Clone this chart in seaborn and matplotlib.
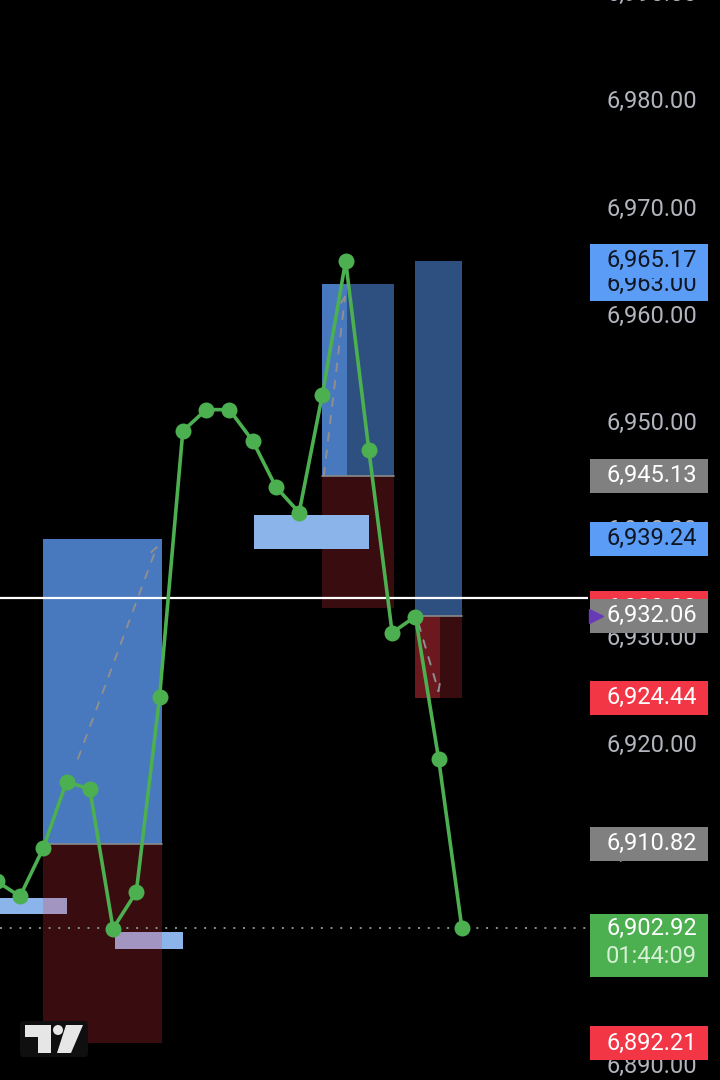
import numpy as np
import pandas as pd
import matplotlib
matplotlib.use('Agg')
import matplotlib.pyplot as plt
import seaborn as sns
from matplotlib.patches import Rectangle, Polygon, Ellipse, FancyBboxPatch

# closing prices of the visible bars
bars = list(range(21))
close = [6907.3, 6905.9, 6910.4, 6916.6, 6915.9, 6902.9, 6906.3, 6924.5, 6949.3, 6951.3,
         6951.3, 6948.4, 6944.1, 6941.7, 6952.7, 6965.17, 6947.5, 6930.5, 6932.0, 6918.7,
         6902.92]

# long/short position tools
pos_x0 = [2.0, 14.0, 18.0]
pos_x1 = [7.1, 17.08, 20.0]
pos_target = [6939.24, 6963.00, 6965.17]
pos_entry = [6910.82, 6945.13, 6932.06]
pos_stop = [6892.21, 6932.80, 6924.44]
prog_end = [7.1, 15.06, 19.06]
prog_side = ['target', 'target', 'stop']

# light blue zones
zone_x0 = [-1.0, 11.06, 5.08]
zone_x1 = [3.02, 16.0, 8.01]
zone_top = [6905.70, 6941.50, 6902.62]
zone_bot = [6904.21, 6938.32, 6901.03]
zone_above = [False, True, False]

# dashed progress arrows (start bar, start price, end bar, end price)
arr_x0 = [3.45, 14.05, 18.1]
arr_y0 = [6918.5, 6944.9, 6931.6]
arr_x1 = [6.95, 15.0, 19.05]
arr_y1 = [6938.9, 6962.3, 6924.6]

last_price = 6902.92
countdown = '01:44:09'
hline_price = 6933.74

ticks = list(range(6890, 7000, 10))

# price scale labels (drawn bottom to top of the stack)
lab_price = [6963.00, 6965.17, 6945.13, 6939.24, 6932.80, 6932.06, 6924.44, 6910.82, 6892.21]
lab_color = ['#5B9CF6', '#5B9CF6', '#808080', '#5B9CF6', '#F23645', '#808080', '#F23645',
             '#808080', '#F23645']
lab_text_color = ['#0E1520', '#0E1520', 'white', '#0E1520', 'white', 'white', 'white',
                  'white', 'white']

ymin, ymax = 6888.77, 6989.51

sns.set_theme(style='dark', rc={'axes.facecolor': 'black', 'figure.facecolor': 'black'})
plt.rcParams['font.family'] = ['Roboto', 'DejaVu Sans']

fig = plt.figure(figsize=(7.2, 10.8), dpi=100)
ax = fig.add_axes([0, 0, 588 / 720, 1])
ax2 = fig.add_axes([588 / 720, 0, 132 / 720, 1])
for a in (ax, ax2):
    a.set_facecolor('black')
    a.set_ylim(ymin, ymax)
    a.set_xticks([])
    a.set_yticks([])
    a.set_xlabel('')
    a.set_ylabel('')
    for s in a.spines.values():
        s.set_visible(False)
ax.set_xlim(0.14, 25.42)
ax2.set_xlim(0, 1)

red = '#F23645'
light_blue = '#4878BE'
dark_blue = '#2E5081'

for i in range(3):
    x0, x1, pe = pos_x0[i], pos_x1[i], prog_end[i]
    t, e, s = pos_target[i], pos_entry[i], pos_stop[i]
    if prog_side[i] == 'target':
        ax.add_patch(Rectangle((x0, e), pe - x0, t - e, color=light_blue, lw=0, zorder=2))
        if pe < x1:
            ax.add_patch(Rectangle((pe, e), x1 - pe, t - e, color=dark_blue, lw=0, zorder=2))
        ax.add_patch(Rectangle((x0, s), x1 - x0, e - s, color=red, alpha=0.24, lw=0, zorder=3))
    else:
        ax.add_patch(Rectangle((x0, e), x1 - x0, t - e, color=dark_blue, lw=0, zorder=2))
        ax.add_patch(Rectangle((x0, s), pe - x0, e - s, color=red, alpha=0.45, lw=0, zorder=3))
        ax.add_patch(Rectangle((pe, s), x1 - pe, e - s, color=red, alpha=0.24, lw=0, zorder=3))
    ax.plot([x0, x1], [e, e], color='#8a8a8a', lw=1.2, zorder=3.5)
    ax.annotate('', xy=(arr_x1[i], arr_y1[i]), xytext=(arr_x0[i], arr_y0[i]),
                arrowprops=dict(arrowstyle='->', color='#8f8f8f', lw=1.4,
                                linestyle=(0, (4, 5)), mutation_scale=12), zorder=3.6)

for i in range(3):
    ax.add_patch(Rectangle((zone_x0[i], zone_bot[i]), zone_x1[i] - zone_x0[i],
                           zone_top[i] - zone_bot[i], color='#8AB4EA', lw=0,
                           zorder=4 if zone_above[i] else 2.5))

ax.axhline(hline_price, color='white', lw=1.6, zorder=5)
ax.axhline(last_price, color='#7f9a7f', lw=1.4, ls=(0, (1, 4)), zorder=5)

df = pd.DataFrame({'bar': bars, 'close': close})
sns.lineplot(data=df, x='bar', y='close', ax=ax, color='#4CAF50', lw=2.6, marker='o',
             markersize=11.5, markeredgewidth=0, zorder=6)
ax.set_xlabel('')
ax.set_ylabel('')

# price scale
tx = (697 - 588) / 132
bx0, bw = 2 / 132, 118 / 132
fs = 17
for p in ticks:
    ax2.text(tx, p, f'{p:,.2f}', ha='right', va='center', color='#B2B5BE', fontsize=fs,
             zorder=1)

h = 3.18
for k, (p, fc, tc) in enumerate(zip(lab_price, lab_color, lab_text_color)):
    ax2.add_patch(Rectangle((bx0, p - h / 2), bw, h, color=fc, lw=0, zorder=2 + 2 * k))
    ax2.text(tx, p, f'{p:,.2f}', ha='right', va='center', color=tc, fontsize=fs,
             zorder=3 + 2 * k)
    if p == 6932.06:
        ax2.plot([0.06], [p], marker='>', color='#673AB7', markersize=10, zorder=3 + 2 * k)

# last price label with countdown
z = 40
ax2.add_patch(Rectangle((bx0, last_price - 4.5), bw, 5.8, color='#4CAF50', lw=0, zorder=z))
ax2.text(tx, last_price, f'{last_price:,.2f}', ha='right', va='center', color='white',
         fontsize=fs, zorder=z + 1)
ax2.text(tx, last_price - 2.6, countdown, ha='right', va='center', color='#D5F0D5',
         fontsize=fs, zorder=z + 1)


# TradingView logo (figure pixel coords)
def px(x, y):
    return (x / 720, 1 - y / 1080)


fig.add_artist(FancyBboxPatch(px(20, 1057), 68 / 720, 36 / 1080, boxstyle='round,pad=0,rounding_size=0.004',
                              transform=fig.transFigure, color='#0f0f0f', lw=0))
fig.add_artist(Polygon([px(25, 1025), px(51, 1025), px(51, 1053), px(38, 1053), px(38, 1037),
                        px(25, 1037)], closed=True, transform=fig.transFigure, color='#E6E6E6', lw=0))
fig.add_artist(Ellipse(px(58, 1030), 10 / 720, 10 / 1080, transform=fig.transFigure,
                       color='#E6E6E6', lw=0))
fig.add_artist(Polygon([px(66, 1025), px(83, 1025), px(71, 1053), px(57, 1053)], closed=True,
                       transform=fig.transFigure, color='#E6E6E6', lw=0))

fig.savefig('out.png', dpi=100, facecolor='black')
